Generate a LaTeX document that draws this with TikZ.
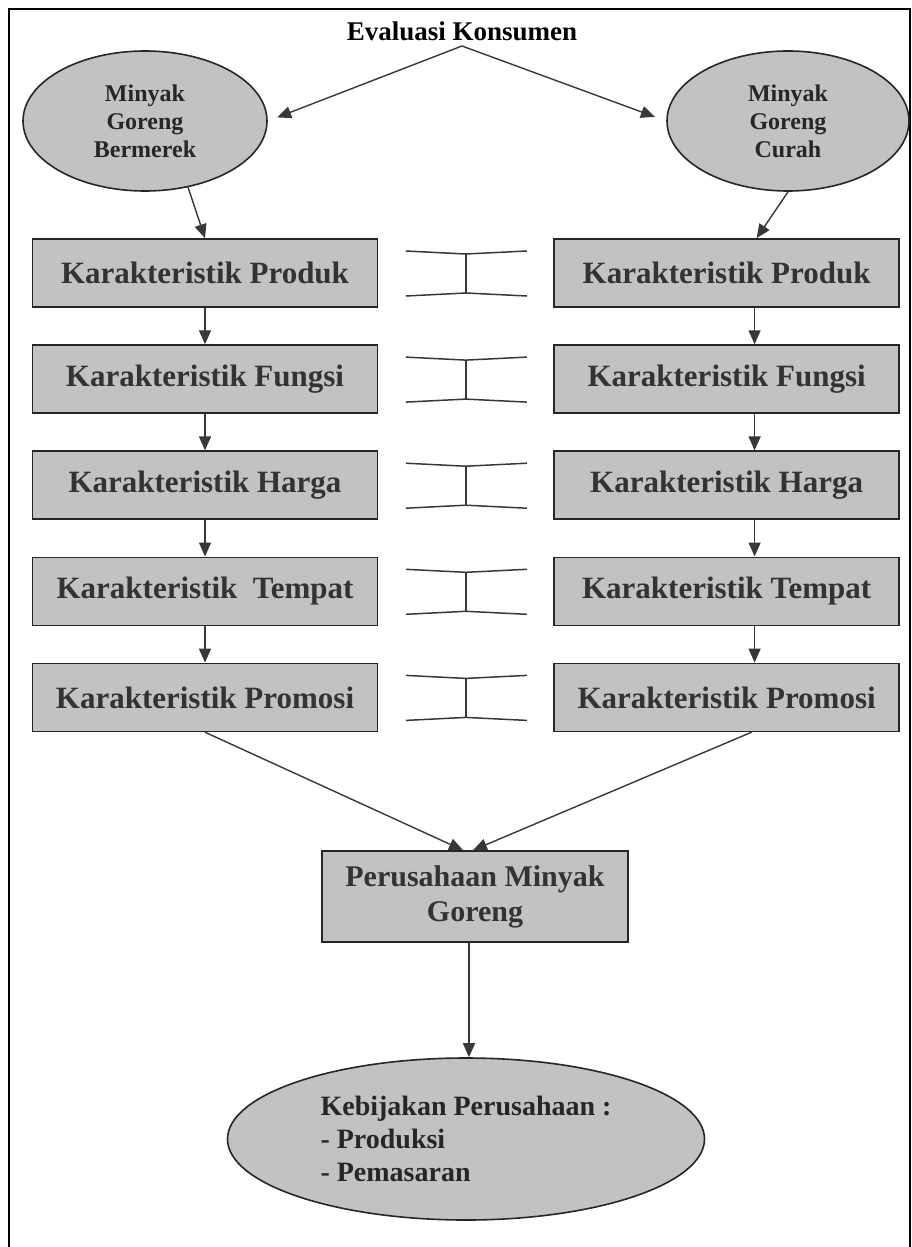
\documentclass[tikz,border=0pt]{standalone}
\usepackage{fontspec}
\setmainfont{Liberation Serif}
\usepackage{tikz}
\usetikzlibrary{arrows.meta,positioning,calc,shapes.geometric}
\definecolor{abu}{gray}{0.76}
\definecolor{garis}{gray}{0.22}
% penghubung antar karakteristik (bentuk I)
\newcommand{\sambung}[2]{%
  \coordinate (m) at ($(#1.east)!0.5!(#2.west)$);
  \draw[link] ($(m)+(-60,-22)$) -- ($(m)+(0,-19)$) -- ($(m)+(61,-22)$);
  \draw[link] ($(m)+(-60,23)$) -- ($(m)+(0,20)$) -- ($(m)+(61,23)$);
  \draw[link] ($(m)+(0,-19)$) -- ($(m)+(0,20)$);
}

\begin{document}
\begin{tikzpicture}[
  x=1pt, y=-1pt,
  node distance=36.5pt and 175pt,
  kotak/.style={draw=black!85, line width=1.6pt, fill=abu, minimum width=345pt, minimum height=68pt, inner sep=0pt, align=center, text=black!80, font=\fontsize{31}{35}\selectfont\bfseries},
  elips/.style={ellipse, draw=black!85, line width=1.6pt, fill=abu, inner sep=0pt, align=center, text=black!85},
  kecil/.style={font=\fontsize{24}{28}\selectfont\bfseries},
  arr/.style={-{Triangle[length=14pt,width=12pt]}, draw=garis, line width=1.4pt},
  link/.style={draw=garis, line width=1.5pt}
]
\useasboundingbox (0,0) rectangle (912,1247);
\draw[line width=1.5pt] (9,1247) |- (910,9) -- (910,1247);

\node[font=\fontsize{27}{30}\selectfont\bfseries] (judul) at (462,31) {Evaluasi Konsumen};
\coordinate (puncak) at (462,46);
\node[elips, kecil, minimum width=244pt, minimum height=140pt] (lel) at (145,121) {Minyak\\Goreng\\Bermerek};
\node[elips, kecil, minimum width=242pt, minimum height=140pt] (rel) at (788,121) {Minyak\\Goreng\\Curah};

\node[kotak] (lp1) at (205,273) {Karakteristik Produk};
\node[kotak, below=of lp1] (lp2) {Karakteristik Fungsi};
\node[kotak, below=of lp2] (lp3) {Karakteristik Harga};
\node[kotak, below=of lp3] (lp4) {Karakteristik\ \ Tempat};
\node[kotak, below=of lp4] (lp5) {Karakteristik Promosi};
\node[kotak, right=of lp1] (rp1) {Karakteristik Produk};
\node[kotak, below=of rp1] (rp2) {Karakteristik Fungsi};
\node[kotak, below=of rp2] (rp3) {Karakteristik Harga};
\node[kotak, below=of rp3] (rp4) {Karakteristik Tempat};
\node[kotak, below=of rp4] (rp5) {Karakteristik Promosi};

\node[kotak, minimum width=306pt, minimum height=91pt, font=\fontsize{30}{35}\selectfont\bfseries] (per) at (475,896.5) {Perusahaan Minyak\\Goreng};
\node[elips, align=left, minimum width=477pt, minimum height=162pt, font=\fontsize{28}{33}\selectfont\bfseries] (pol) at (466,1139) {Kebijakan Perusahaan :\\- Produksi\\- Pemasaran};

\draw[arr, shorten >=10pt] (puncak) -- (lel.east);
\draw[arr, shorten >=12pt] (puncak) -- (rel.west);
\draw[arr] (lel.-57) -- (lp1.north);
\draw[arr] (rel.south) -- ([xshift=30pt]rp1.north);
\draw[arr] (lp1) -- (lp2);
\draw[arr] (lp2) -- (lp3);
\draw[arr] (lp3) -- (lp4);
\draw[arr] (lp4) -- (lp5);
\draw[arr] ([xshift=28pt]rp1.south) -- ([xshift=28pt]rp2.north);
\draw[arr] ([xshift=28pt]rp2.south) -- ([xshift=28pt]rp3.north);
\draw[arr] ([xshift=28pt]rp3.south) -- ([xshift=28pt]rp4.north);
\draw[arr] ([xshift=28pt]rp4.south) -- ([xshift=28pt]rp5.north);
\draw[arr] (lp5.south) -- ([xshift=-12pt]per.north);
\draw[arr] ([xshift=25pt]rp5.south) -- ([xshift=-2pt]per.north);
\draw[arr] ([xshift=-6pt]per.south) -- ([xshift=-6pt]per.south |- pol.north);

\sambung{lp1}{rp1}
\sambung{lp2}{rp2}
\sambung{lp3}{rp3}
\sambung{lp4}{rp4}
\sambung{lp5}{rp5}
\end{tikzpicture}
\end{document}
